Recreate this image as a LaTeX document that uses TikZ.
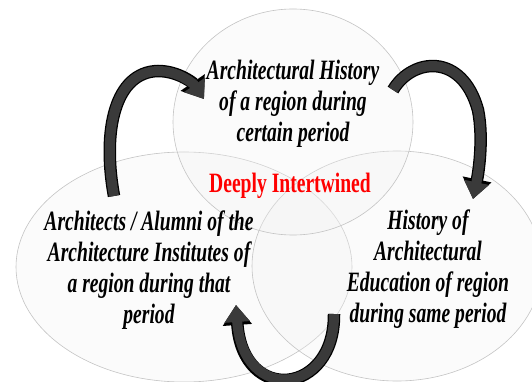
\documentclass[tikz,border=0pt]{standalone}
\usepackage{fontspec}
\setmainfont{Liberation Serif}
\newfontfamily\condserif[FakeStretch=0.70]{Liberation Serif}
\usetikzlibrary{arrows.meta,shapes.geometric}
\definecolor{arrowfill}{HTML}{3A3A3A}
\definecolor{ringline}{HTML}{C4C4C4}
\definecolor{ringfill}{HTML}{F2F2F2}
\begin{document}
\begin{tikzpicture}[x=1pt,y=-1pt,
  ring/.style={ellipse, draw=ringline, line width=0.6pt, fill=ringfill, fill opacity=0.3, inner sep=0pt},
  txt/.style={font=\condserif\bfseries\itshape\fontsize{28}{31}\selectfont, align=center, inner sep=0pt, text=black},
  redtxt/.style={font=\condserif\bfseries\fontsize{28}{31}\selectfont, text=red, inner sep=0pt},
  arrowout/.style={line width=12.5pt, draw=black, -{Triangle[width=28pt,length=20pt]}},
  arrowin/.style={line width=10pt, draw=arrowfill, -{Triangle[width=24.5pt,length=17pt]}}
]
\clip (0,0) rectangle (532,382);
\fill[white] (0,0) rectangle (532,382);
% rings
\node[ring, minimum width=336pt, minimum height=230pt] (leftring) at (184,267) {};
\node[ring, minimum width=290pt, minimum height=230pt] (rightring) at (397,266) {};
\node[ring, minimum width=240pt, minimum height=226pt] (topring) at (293,122) {};
% texts
\node[txt] (toptext) at (293,103.5) {Architectural History\\of a region during\\certain period};
\node[txt] (lefttext) at (149,270.5) {Architects / Alumni of the\\Architecture Institutes of\\a region during that\\period};
\node[txt] (righttext) at (428,269.5) {History of\\Architectural\\Education of region\\during same period};
\node[redtxt, anchor=base] (centertext) at (290,193) {Deeply Intertwined};
% arrow end points
\coordinate (a1tail) at (114,196);
\coordinate (a1tip) at (204,99);
\coordinate (a2tail) at (393,90);
\coordinate (a2tip) at (473,199);
\coordinate (a3tail) at (334,314);
\coordinate (a3tip) at (236,305);
% arrows: outline then fill
\foreach \s in {arrowout,arrowin}{
  \draw[\s] (a1tail) .. controls (102,130) and (115,72) .. (158,71)
        .. controls (178,71) and (193,83) .. (a1tip);
  \draw[\s] (a2tail) .. controls (412,58) and (462,52) .. (478,110)
        .. controls (484,140) and (478,175) .. (a2tip);
  \draw[\s] (a3tail) .. controls (335,395) and (243,405) .. (a3tip);
}
\end{tikzpicture}
\end{document}
